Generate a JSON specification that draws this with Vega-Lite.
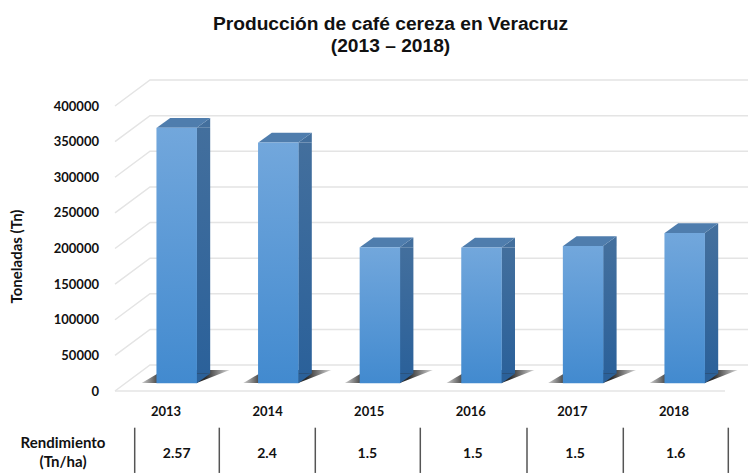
{"$schema":"https://vega.github.io/schema/vega-lite/v6.json","width":633,"height":285,"autosize":"none","padding":{"left":115,"top":106,"right":0,"bottom":82},"background":"white","config":{"view":{"stroke":null},"axis":{"labelOverlap":false},"axisY":{"tickCount":9}},
"title":{"text":["Producción de café cereza en Veracruz","(2013 – 2018)"],"font":"Liberation Sans","fontSize":19.2,"fontWeight":"bold","color":"#111","lineHeight":22,"anchor":"middle","dx":-41,"offset":21},
"datasets":{"produccion":[{"year":"2013","toneladas":358700,"rendimiento":"2.57"},{"year":"2014","toneladas":338000,"rendimiento":"2.4"},{"year":"2015","toneladas":191000,"rendimiento":"1.5"},{"year":"2016","toneladas":190500,"rendimiento":"1.5"},{"year":"2017","toneladas":192700,"rendimiento":"1.5"},{"year":"2018","toneladas":211000,"rendimiento":"1.6"}],"rejilla":[{"v":0},{"v":50000},{"v":100000},{"v":150000},{"v":200000},{"v":250000},{"v":300000},{"v":350000},{"v":400000}]},
"data":{"name":"produccion"},
"encoding":{"x":{"field":"year","type":"nominal","sort":null,"scale":{"type":"band","range":[10.9,620.5],"paddingInner":0,"paddingOuter":0},"axis":{"title":null,"domain":false,"ticks":false,"grid":false,"labelAngle":0,"labelPadding":14,"labelOffset":-10.7,"labelFont":"Lato","labelFontWeight":"bold","labelFontSize":13,"labelColor":"#111"}}},
"layer":[
{"data":{"name":"rejilla"},"mark":{"type":"point","shape":"M-316.5,0L-281.5,-26L316.5,-26","size":4,"filled":false,"stroke":"#e4e4e4","strokeWidth":1.5,"opacity":1},"encoding":{"x":{"value":316.5},"y":{"field":"v","type":"quantitative","scale":{"domain":[0,400000],"nice":false},"axis":{"title":"Toneladas (Tn)","titleFont":"Lato","titleFontWeight":"bold","titleFontSize":15,"titleColor":"#111","titleX":-91,"titleY":150,"tickCount":9,"format":"d","domain":false,"ticks":false,"grid":false,"labelOverlap":false,"labelPadding":16.5,"labelFont":"Lato","labelFontWeight":"bold","labelFontSize":13,"labelColor":"#111"}}}},
{"data":{"name":"rejilla"},"transform":[{"filter":"datum.v==0"}],"mark":{"type":"point","shape":"M-316.5,0L293.5,0","size":4,"filled":false,"stroke":"#e4e4e4","strokeWidth":1.5,"opacity":1},"encoding":{"x":{"value":316.5},"y":{"field":"v","type":"quantitative"}}},
{"mark":{"type":"point","shape":"M-35,-8L20,-8L53,-21L-13,-21Z","size":4,"opacity":1,"filled":true,"fill":{"gradient":"linear","x1":0,"y1":0,"x2":1,"y2":0,"stops":[{"offset":0,"color":"#cfcfcf"},{"offset":0.2,"color":"#3a3a3a"},{"offset":0.72,"color":"#2a2a2a"},{"offset":1,"color":"#d8d8d8"}]}},"encoding":{"y":{"datum":0,"type":"quantitative"}}},
{"mark":{"type":"bar","width":13.5,"xOffset":26.75,"yOffset":-7.7,"y2Offset":-17.4,"fill":{"gradient":"linear","x1":0,"y1":0,"x2":0,"y2":1,"stops":[{"offset":0,"color":"#436f9d"},{"offset":1,"color":"#2b619a"}]}},"encoding":{"y":{"field":"toneladas","type":"quantitative"},"y2":{"datum":0}}},
{"mark":{"type":"point","shape":"M20,-7.7L33.5,-17.4L33.5,-7.7Z","size":4,"opacity":1,"filled":true,"fill":"#436f9d"},"encoding":{"y":{"field":"toneladas","type":"quantitative"}}},
{"mark":{"type":"point","shape":"M20,-7.7L33.5,-17.4L20,-17.4Z","size":4,"opacity":1,"filled":true,"fill":"#2b619a"},"encoding":{"y":{"datum":0,"type":"quantitative"}}},
{"mark":{"type":"point","shape":"M-20,-7.7L-6.5,-17.4L33.5,-17.4L20,-7.7Z","size":4,"opacity":1,"filled":true,"fill":"#4f7dad"},"encoding":{"y":{"field":"toneladas","type":"quantitative"}}},
{"mark":{"type":"bar","width":40.5,"yOffset":-7.7,"y2Offset":-7.7,"fill":{"gradient":"linear","x1":0,"y1":0,"x2":0,"y2":1,"stops":[{"offset":0,"color":"#72a7dc"},{"offset":1,"color":"#428acf"}]}},"encoding":{"y":{"field":"toneladas","type":"quantitative"},"y2":{"datum":0}}},
{"transform":[{"filter":"datum.year=='2013'"}],"mark":{"type":"text","text":["Rendimiento","(Tn/ha)"],"lineHeight":19,"xOffset":-113.7,"font":"Lato","fontWeight":"bold","fontSize":15,"color":"#111"},"encoding":{"y":{"datum":-73000,"type":"quantitative"}}},
{"transform":[{"filter":"datum.year=='2013'"}],"mark":{"type":"text","xOffset":0,"font":"Lato","fontWeight":"bold","fontSize":14,"color":"#111"},"encoding":{"y":{"datum":-88400,"type":"quantitative"},"text":{"field":"rendimiento"}}},
{"transform":[{"filter":"datum.year=='2014'"}],"mark":{"type":"text","xOffset":-11.3,"font":"Lato","fontWeight":"bold","fontSize":14,"color":"#111"},"encoding":{"y":{"datum":-88400,"type":"quantitative"},"text":{"field":"rendimiento"}}},
{"transform":[{"filter":"datum.year=='2015'"}],"mark":{"type":"text","xOffset":-12.6,"font":"Lato","fontWeight":"bold","fontSize":14,"color":"#111"},"encoding":{"y":{"datum":-88400,"type":"quantitative"},"text":{"field":"rendimiento"}}},
{"transform":[{"filter":"datum.year=='2016'"}],"mark":{"type":"text","xOffset":-8.7,"font":"Lato","fontWeight":"bold","fontSize":14,"color":"#111"},"encoding":{"y":{"datum":-88400,"type":"quantitative"},"text":{"field":"rendimiento"}}},
{"transform":[{"filter":"datum.year=='2017'"}],"mark":{"type":"text","xOffset":-8,"font":"Lato","fontWeight":"bold","fontSize":14,"color":"#111"},"encoding":{"y":{"datum":-88400,"type":"quantitative"},"text":{"field":"rendimiento"}}},
{"transform":[{"filter":"datum.year=='2018'"}],"mark":{"type":"text","xOffset":-9,"font":"Lato","fontWeight":"bold","fontSize":14,"color":"#111"},"encoding":{"y":{"datum":-88400,"type":"quantitative"},"text":{"field":"rendimiento"}}},
{"transform":[{"filter":"datum.year=='2013'"}],"mark":{"type":"rule","xOffset":-42,"stroke":"#555","strokeWidth":1.5},"encoding":{"y":{"datum":-51500,"type":"quantitative"},"y2":{"datum":-115000}}},
{"transform":[{"filter":"datum.year=='2013'"}],"mark":{"type":"rule","xOffset":42.6,"stroke":"#555","strokeWidth":1.5},"encoding":{"y":{"datum":-51500,"type":"quantitative"},"y2":{"datum":-115000}}},
{"transform":[{"filter":"datum.year=='2014'"}],"mark":{"type":"rule","xOffset":37,"stroke":"#555","strokeWidth":1.5},"encoding":{"y":{"datum":-51500,"type":"quantitative"},"y2":{"datum":-115000}}},
{"transform":[{"filter":"datum.year=='2015'"}],"mark":{"type":"rule","xOffset":40.4,"stroke":"#555","strokeWidth":1.5},"encoding":{"y":{"datum":-51500,"type":"quantitative"},"y2":{"datum":-115000}}},
{"transform":[{"filter":"datum.year=='2016'"}],"mark":{"type":"rule","xOffset":45.5,"stroke":"#555","strokeWidth":1.5},"encoding":{"y":{"datum":-51500,"type":"quantitative"},"y2":{"datum":-115000}}},
{"transform":[{"filter":"datum.year=='2017'"}],"mark":{"type":"rule","xOffset":40.2,"stroke":"#555","strokeWidth":1.5},"encoding":{"y":{"datum":-51500,"type":"quantitative"},"y2":{"datum":-115000}}},
{"transform":[{"filter":"datum.year=='2018'"}],"mark":{"type":"rule","xOffset":43.6,"stroke":"#555","strokeWidth":1.5},"encoding":{"y":{"datum":-51500,"type":"quantitative"},"y2":{"datum":-115000}}}
]}
